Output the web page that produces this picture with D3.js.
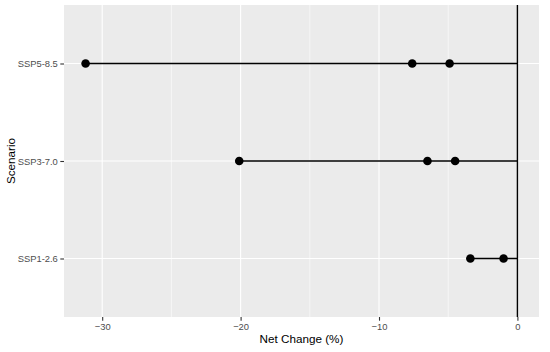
<!DOCTYPE html>
<html>
<head>
<meta charset="utf-8">
<script src="https://cdn.jsdelivr.net/npm/d3@7"></script>
<style>
  body { margin: 0; background: #fff; }
  text { font-family: "Liberation Sans", Arial, sans-serif; }
</style>
</head>
<body>
<div id="chart"></div>
<script>
// scenarios, bottom to top as in the plot
const scenarios = ['SSP1-2.6', 'SSP3-7.0', 'SSP5-8.5'];
// net change (%) points per scenario
const pointsSSP126 = [-3.4, -1.0];
const pointsSSP370 = [-20.1, -6.5, -4.5];
const pointsSSP585 = [-31.2, -7.6, -4.9];
const xTicks = [-30, -20, -10, 0];
const xMinorTicks = [-25, -15, -5];

const W = 550, H = 352;
const margin = {top: 5, right: 11, bottom: 35, left: 64};
const width = W - margin.left - margin.right;
const height = H - margin.top - margin.bottom;

const rows = [
  {name: scenarios[0], values: pointsSSP126},
  {name: scenarios[1], values: pointsSSP370},
  {name: scenarios[2], values: pointsSSP585}
];

const svg = d3.select('#chart')
  .append('svg')
  .attr('width', W)
  .attr('height', H)
  .append('g')
  .attr('transform', 'translate(' + margin.left + ',' + margin.top + ')');

const allValues = rows.flatMap(r => r.values).concat([0]);
const lo = d3.min(allValues), hi = d3.max(allValues);
const pad = (hi - lo) * 0.05;

const x = d3.scaleLinear()
  .domain([lo - pad, hi + pad])
  .range([0, width]);

// discrete axis with ggplot's 0.6 expansion
const y = d3.scaleLinear()
  .domain([1 - 0.6, scenarios.length + 0.6])
  .range([height, 0]);
const yPos = name => y(scenarios.indexOf(name) + 1);

svg.append('rect')
  .attr('width', width)
  .attr('height', height)
  .attr('fill', '#ebebeb');

svg.selectAll('.minor-x')
  .data(xMinorTicks)
  .enter().append('line')
  .attr('x1', d => x(d)).attr('x2', d => x(d))
  .attr('y1', 0).attr('y2', height)
  .attr('stroke', '#fff')
  .attr('stroke-width', 0.55);

svg.selectAll('.major-x')
  .data(xTicks)
  .enter().append('line')
  .attr('x1', d => x(d)).attr('x2', d => x(d))
  .attr('y1', 0).attr('y2', height)
  .attr('stroke', '#fff')
  .attr('stroke-width', 1.1);

svg.selectAll('.major-y')
  .data(scenarios)
  .enter().append('line')
  .attr('x1', 0).attr('x2', width)
  .attr('y1', d => yPos(d)).attr('y2', d => yPos(d))
  .attr('stroke', '#fff')
  .attr('stroke-width', 1.1);

// zero reference line
svg.append('line')
  .attr('x1', x(0)).attr('x2', x(0))
  .attr('y1', 0).attr('y2', height)
  .attr('stroke', '#000')
  .attr('stroke-width', 1.4);

// range segments to zero
svg.selectAll('.seg')
  .data(rows)
  .enter().append('line')
  .attr('x1', d => x(d3.min(d.values)))
  .attr('x2', x(0))
  .attr('y1', d => yPos(d.name))
  .attr('y2', d => yPos(d.name))
  .attr('stroke', '#000')
  .attr('stroke-width', 1.4);

svg.selectAll('.pt')
  .data(rows.flatMap(r => r.values.map(v => ({name: r.name, v}))))
  .enter().append('circle')
  .attr('cx', d => x(d.v))
  .attr('cy', d => yPos(d.name))
  .attr('r', 4.3)
  .attr('fill', '#000');

// axes
const xAxis = svg.append('g')
  .attr('transform', 'translate(0,' + height + ')')
  .call(d3.axisBottom(x).tickValues(xTicks).tickSize(3.7).tickPadding(2.5)
    .tickFormat(d => d < 0 ? '\u2212' + Math.abs(d) : d));

const yAxis = svg.append('g')
  .call(d3.axisLeft(y).tickValues([1, 2, 3]).tickSize(3.7).tickPadding(2.5)
    .tickFormat(d => scenarios[d - 1]));

[xAxis, yAxis].forEach(a => {
  a.select('.domain').remove();
  a.selectAll('.tick line').attr('stroke', '#333').attr('stroke-width', 1.1);
  a.selectAll('.tick text')
    .attr('fill', '#4d4d4d')
    .style('font-size', '9.4px')
    .style('font-family', '"Liberation Sans", Arial, sans-serif');
});

svg.append('text')
  .attr('x', width / 2)
  .attr('y', height + 26)
  .attr('text-anchor', 'middle')
  .style('font-size', '11.7px')
  .attr('fill', '#000')
  .text('Net Change (%)');

svg.append('text')
  .attr('transform', 'translate(' + (14.5 - margin.left) + ',' + (height / 2) + ') rotate(-90)')
  .attr('text-anchor', 'middle')
  .style('font-size', '11.7px')
  .attr('fill', '#000')
  .text('Scenario');
</script>
</body>
</html>
